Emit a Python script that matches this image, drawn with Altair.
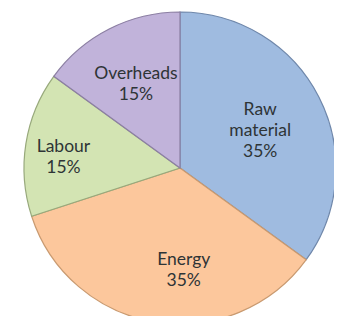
import altair as alt
import pandas as pd

categories = ["Raw material", "Energy", "Labour", "Overheads"]
shares = [35, 35, 15, 15]
label_lines = [["Raw", "material", "35%"], ["Energy", "35%"], ["Labour", "15%"], ["Overheads", "15%"]]
colors = ["#9fbbe0", "#fcc79c", "#d3e4b3", "#c1b3da"]
strokes = ["#6f87aa", "#c99a70", "#98a97c", "#8c7fa3"]

df = pd.DataFrame({
    "category": categories,
    "share": shares,
    "order": list(range(len(categories))),
    "label": label_lines,
})

cx, cy = 172, 160
line_h = 21

base = alt.Chart(df).encode(
    theta=alt.Theta("share:Q", stack=True, scale=alt.Scale(range=[0, 6.283185307])),
    order=alt.Order("order:Q"),
)

pie = base.mark_arc(outerRadius=156, strokeWidth=1.2, x=cx, y=cy).encode(
    color=alt.Color("category:N", scale=alt.Scale(domain=categories, range=colors), legend=None),
    stroke=alt.Stroke("category:N", scale=alt.Scale(domain=categories, range=strokes), legend=None),
)

text_style = dict(x=cx, y=cy, font="Lato", fontSize=17.5, color="#2e3436", lineHeight=line_h,
                  lineBreak="\n", baseline="middle")


def label_layer(name, **kw):
    return base.mark_text(**text_style, **kw).encode(
        text="label",
        opacity=alt.condition(alt.datum.category == name, alt.value(1), alt.value(0)),
    )


layers = [
    label_layer("Raw material", radius=90, dy=-17),
    label_layer("Overheads", radius=97, dy=-8),
    label_layer("Energy", radius=104, dx=20, dy=-line_h / 2),
    label_layer("Labour", radius=118, dy=-3),
]

chart = alt.layer(pie, *layers).properties(
    width=326, height=308, padding=0, autosize="none"
).configure_view(stroke=None)
chart.save("out.html", embed_options={"renderer": "svg", "actions": False})
